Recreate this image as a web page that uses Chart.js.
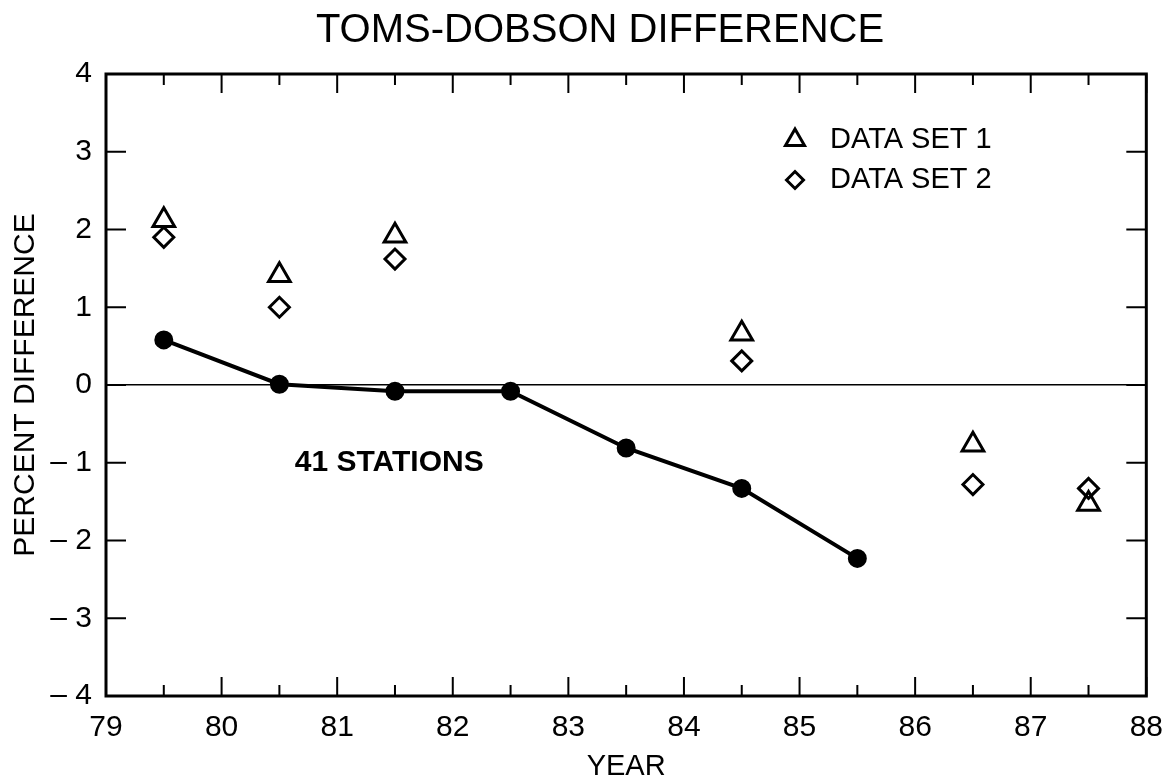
<!DOCTYPE html>
<html>
<head>
<meta charset="utf-8">
<script src="https://cdn.jsdelivr.net/npm/chart.js@4.4.1/dist/chart.umd.min.js"></script>
<style>
html,body{margin:0;padding:0;background:#fff}
#wrap{width:1169px;height:784px}
</style>
</head>
<body>
<div id="wrap"><canvas id="chart"></canvas></div>
<script>
// values
const stationYears = [79.5, 80.5, 81.5, 82.5, 83.5, 84.5, 85.5];
const stationDiff  = [0.58, 0.01, -0.08, -0.08, -0.81, -1.33, -2.23];
const set1Years = [79.5, 80.5, 81.5, 84.5, 86.5, 87.5];
const set1Diff  = [2.12, 1.41, 1.92, 0.66, -0.77, -1.53];
const set2Years = [79.5, 80.5, 81.5, 84.5, 86.5, 87.5];
const set2Diff  = [1.90, 1.00, 1.62, 0.31, -1.28, -1.33];
const xTicks = [79, 80, 81, 82, 83, 84, 85, 86, 87, 88];
const yTicks = [-4, -3, -2, -1, 0, 1, 2, 3, 4];
const legendNames = ['DATA SET 1', 'DATA SET 2'];
const chartTitle = 'TOMS-DOBSON DIFFERENCE';

const FONT = '"Liberation Sans", Arial, Helvetica, sans-serif';
const toPts = (xs, ys) => xs.map((x, i) => ({x: x, y: ys[i]}));

// title, frame, inward ticks, label and legend
const framePlugin = {
  id: 'frame',
  afterDraw(chart) {
    const ctx = chart.ctx, a = chart.chartArea;
    const xs = chart.scales.x, ys = chart.scales.y;
    ctx.save();
    ctx.fillStyle = '#000';
    ctx.font = '40px ' + FONT;
    ctx.textAlign = 'center';
    ctx.textBaseline = 'middle';
    ctx.fillText(chartTitle, 600, 31);

    ctx.strokeStyle = '#000';
    ctx.lineWidth = 3;
    ctx.strokeRect(a.left, a.top, a.right - a.left, a.bottom - a.top);
    ctx.lineWidth = 2;
    ctx.beginPath();
    xTicks.forEach(v => {
      const px = xs.getPixelForValue(v);
      ctx.moveTo(px, a.bottom); ctx.lineTo(px, a.bottom - 19);
      ctx.moveTo(px, a.top); ctx.lineTo(px, a.top + 19);
      if (v < 88) {
        const pm = xs.getPixelForValue(v + 0.5);
        ctx.moveTo(pm, a.bottom); ctx.lineTo(pm, a.bottom - 11);
        ctx.moveTo(pm, a.top); ctx.lineTo(pm, a.top + 11);
      }
    });
    yTicks.forEach(v => {
      const py = ys.getPixelForValue(v);
      ctx.moveTo(a.left, py); ctx.lineTo(a.left + 20, py);
      ctx.moveTo(a.right, py); ctx.lineTo(a.right - 20, py);
    });
    ctx.stroke();

    ctx.font = 'bold 30px ' + FONT;
    ctx.fillText('41 STATIONS', xs.getPixelForValue(81.45), ys.getPixelForValue(-1.0));

    // legend
    const rows = [140, 180];
    ctx.font = '29px ' + FONT;
    ctx.textAlign = 'left';
    [1, 2].forEach((di, i) => {
      const ds = chart.data.datasets[di];
      ctx.lineWidth = ds.borderWidth;
      ctx.strokeStyle = '#000';
      ctx.fillStyle = '#fff';
      Chart.helpers.drawPoint(ctx, {pointStyle: ds.pointStyle, radius: ds.pointRadius - 1.5, borderWidth: ds.borderWidth}, 795, rows[i]);
      ctx.fillStyle = '#000';
      ctx.fillText(legendNames[i], 830, rows[i]);
    });
    ctx.restore();
  }
};

new Chart(document.getElementById('chart'), {
  type: 'scatter',
  data: {
    datasets: [
      {
        label: '41 STATIONS',
        data: toPts(stationYears, stationDiff),
        showLine: true,
        borderColor: '#000',
        backgroundColor: '#000',
        borderWidth: 4,
        pointRadius: 7.5,
        pointStyle: 'circle'
      },
      {
        label: legendNames[0],
        data: toPts(set1Years, set1Diff),
        pointStyle: 'triangle',
        pointRadius: 12.5,
        borderColor: '#000',
        backgroundColor: 'rgba(255,255,255,0)',
        borderWidth: 3
      },
      {
        label: legendNames[1],
        data: toPts(set2Years, set2Diff),
        pointStyle: 'rectRot',
        pointRadius: 10,
        borderColor: '#000',
        backgroundColor: 'rgba(255,255,255,0)',
        borderWidth: 3
      }
    ]
  },
  options: {
    responsive: true,
    maintainAspectRatio: false,
    animation: false,
    events: [],
    layout: {padding: {left: 0, right: 22, top: 74, bottom: 0}},
    plugins: {
      legend: {display: false},
      tooltip: {enabled: false},
      title: {display: false}
    },
    scales: {
      x: {
        type: 'linear',
        min: 79, max: 88,
        afterFit: s => { s.height = 88; },
        afterBuildTicks: s => { s.ticks = xTicks.map(v => ({value: v})); },
        grid: {display: false},
        border: {display: false},
        ticks: {color: '#000', padding: 6, font: {family: FONT, size: 30}, maxRotation: 0},
        title: {display: true, text: 'YEAR', color: '#000', font: {family: FONT, size: 29}, padding: {top: 0, bottom: 0}}
      },
      y: {
        min: -4, max: 4,
        afterFit: s => { s.width = 106; },
        afterBuildTicks: s => { s.ticks = yTicks.map(v => ({value: v})); },
        grid: {
          drawTicks: false,
          color: c => (c.tick && c.tick.value === 0) ? '#000' : 'rgba(0,0,0,0)',
          lineWidth: 1.5
        },
        border: {display: false},
        ticks: {
          color: '#000', padding: 14, font: {family: FONT, size: 30},
          callback: v => v < 0 ? '\u2013 ' + Math.abs(v) : String(v)
        },
        title: {display: true, text: 'PERCENT DIFFERENCE', color: '#000', font: {family: FONT, size: 30}, padding: {top: 8, bottom: 0}}
      }
    }
  },
  plugins: [framePlugin]
});
</script>
</body>
</html>
